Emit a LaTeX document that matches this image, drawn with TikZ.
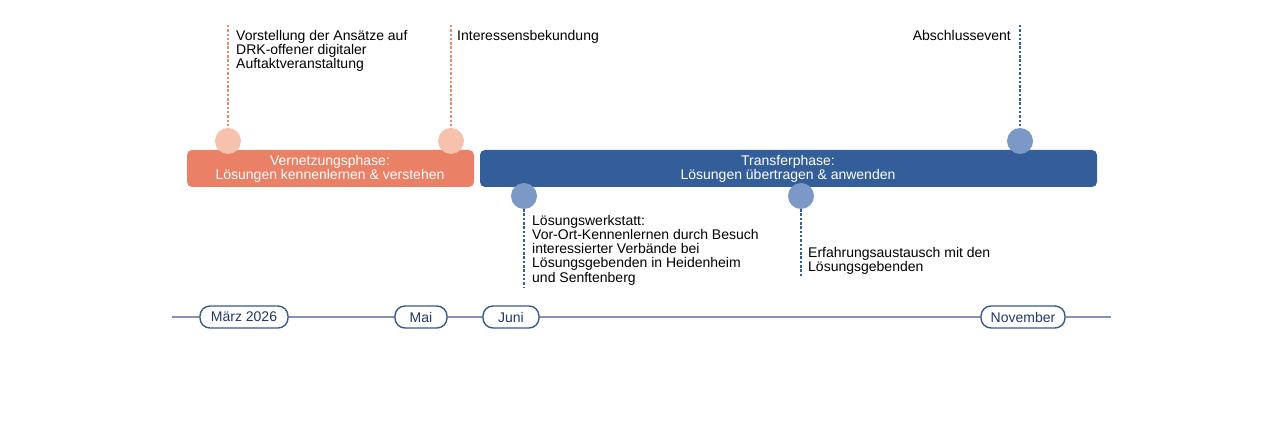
\documentclass[tikz,border=0pt]{standalone}
\usepackage{fontspec}
\setmainfont{Liberation Sans}
\begin{document}
\begin{tikzpicture}[x=1pt,y=-1pt,
  every node/.style={font=\fontsize{14}{14.2}\selectfont},
  bar/.style={rounded corners=5pt,draw=none},
  lorange/.style={circle,fill=dotor,minimum size=26pt,inner sep=0},
  lblue/.style={circle,fill=dotbl,minimum size=26pt,inner sep=0},
  odash/.style={draw=lineor,dash pattern=on 2.5pt off 1.8pt,line width=1.1pt},
  bdash/.style={draw=barbl,dash pattern=on 2.5pt off 1.8pt,line width=1.1pt},
  lbl/.style={align=left,inner sep=0,anchor=north west},
  pill/.style={draw=pillbl,line width=1.4pt,fill=white,rounded corners=10pt,minimum height=22pt,inner sep=0,text=pilltx}]
\definecolor{baror}{HTML}{EA8066}
\definecolor{barbl}{HTML}{345E99}
\definecolor{dotor}{HTML}{F7C2AD}
\definecolor{dotbl}{HTML}{7B98C6}
\definecolor{lineor}{HTML}{EE8A6C}
\definecolor{pillbl}{HTML}{3A5A8C}
\definecolor{pilltx}{HTML}{1F3A66}
\definecolor{tl}{HTML}{8293B5}
\useasboundingbox (0,0) rectangle (1280,427);
\fill[bar,baror] (187,150) rectangle (474,187);
\fill[bar,barbl] (480,150) rectangle (1097,187);
\node[text=white,align=center] (b1) at (330,169) {Vernetzungsphase:\\Lösungen kennenlernen \& verstehen};
\node[text=white,align=center] (b2) at (788,169) {Transferphase:\\Lösungen übertragen \& anwenden};
\coordinate (t1) at (228,25); \coordinate (t2) at (451,25); \coordinate (t3) at (1020,25);
\coordinate (e4) at (524,287); \coordinate (e5) at (801,276);
\node[lorange] (c1) at (228,141) {};
\node[lorange] (c2) at (451,141) {};
\node[lblue] (c3) at (1020,141) {};
\node[lblue] (c4) at (524,196) {};
\node[lblue] (c5) at (801,196) {};
\draw[odash] (t1) -- (c1); \draw[odash] (t2) -- (c2);
\draw[bdash] (t3) -- (c3); \draw[bdash] (c4) -- (e4); \draw[bdash] (c5) -- (e5);
\node[lbl] (l1) at (236,30) {Vorstellung der Ansätze auf\\DRK-offener digitaler\\Auftaktveranstaltung};
\node[lbl] (l2) at (457,30) {Interessensbekundung};
\node[align=right,inner sep=0,anchor=north east] (l3) at (1011,30) {Abschlussevent};
\node[lbl] (l4) at (532,215) {Lösungswerkstatt:\\Vor-Ort-Kennenlernen durch Besuch\\interessierter Verbände bei\\Lösungsgebenden in Heidenheim\\und Senftenberg};
\node[lbl] (l5) at (808,247) {Erfahrungsaustausch mit den\\Lösungsgebenden};
\coordinate (ta) at (172,317); \coordinate (tb) at (1111,317);
\draw[tl,line width=1.2pt] (ta) -- (tb);
\node[pill,minimum width=88pt] (p1) at (244,317) {März 2026};
\node[pill,minimum width=52pt] (p2) at (421,317) {Mai};
\node[pill,minimum width=56pt] (p3) at (511,317) {Juni};
\node[pill,minimum width=84pt] (p4) at (1023,317) {November};
\end{tikzpicture}
\end{document}
